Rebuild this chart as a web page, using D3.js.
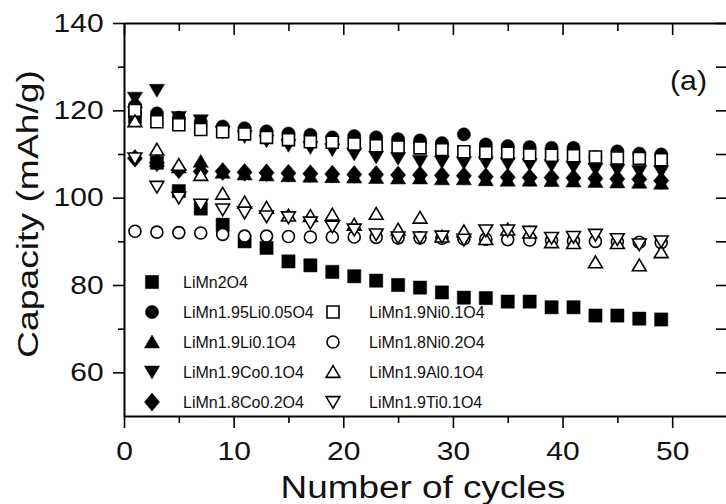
<!DOCTYPE html>
<html>
<head>
<meta charset="utf-8">
<script src="https://cdn.jsdelivr.net/npm/d3@7"></script>
<style>
  body { margin: 0; background: #fff; }
  svg { display: block; }
  text { font-family: "Liberation Sans", Arial, sans-serif; fill: #111; }
</style>
</head>
<body>
<svg width="726" height="504"></svg>
<script>
// cycle numbers (x)
const cycles = [1, 3, 5, 7, 9, 11, 13, 15, 17, 19, 21, 23, 25, 27, 29, 31, 33, 35, 37, 39, 41, 43, 45, 47, 49];

// capacity (mAh/g)
const limn2o4 = [118.5, 108, 101.5, 97.5, 93.8, 90, 88.5, 85.4, 84.5, 83, 82, 81, 80, 79.4, 78.3, 77.1, 77, 76.2, 76.2, 74.9, 74.9, 73, 73, 72.3, 72.1];
const li005 = [121, 119.3, 118.3, 117.3, 116.3, 115.9, 115.2, 114.7, 114.4, 113.8, 114.1, 113.8, 113.4, 113.1, 112.5, 114.5, 112.2, 111.8, 111.6, 111.4, 111.4, 109.3, 110.6, 110.1, 109.9];
const li01 = [122, 108.5, 107, 108.3, 105.8, 105.4, 105.2, 105, 104.9, 104.8, 104.7, 104.6, 104.5, 104.5, 104.3, 104.3, 104.1, 104, 104, 103.9, 103.8, 103.7, 103.6, 103.5, 103.3];
const co01 = [122.8, 124.6, 118.4, 117.6, 115, 114, 113, 112, 111.5, 111, 110, 109.3, 109, 108.3, 108.2, 108, 108, 107.8, 107.6, 107.4, 107, 106.5, 106.3, 106, 106];
const co02 = [109, 108, 106.4, 106, 106, 105.8, 105.7, 105.6, 105.5, 105.4, 105.3, 105.3, 105.2, 105.2, 105.1, 105, 104.8, 104.7, 104.6, 104.6, 104.5, 104.4, 104.3, 104.2, 103.9];
const ni01 = [120, 117.4, 116.7, 115.6, 115.1, 114.6, 113.8, 113.3, 112.8, 112.7, 112.3, 111.9, 111.6, 111.4, 111, 110.5, 110.3, 110.2, 109.8, 109.7, 109.6, 109.3, 109.1, 109, 108.7];
const ni02 = [92.3, 92.1, 92, 91.9, 91.6, 91.2, 91.2, 91.1, 91, 91, 91, 90.9, 90.8, 90.8, 90.7, 90.6, 90.5, 90.4, 90.3, 90.2, 90.1, 90, 89.9, 89.8, 89.7];
const al01 = [117.5, 111, 107.5, 105.2, 100.9, 98.9, 97.7, 95.9, 95.8, 96.1, 93.8, 96.3, 92.7, 95.4, 91.1, 92.3, 90.5, 92.7, 92, 89.8, 89.6, 85.2, 89.6, 84.5, 87.5];
const ti01 = [109, 102.5, 100, 98.4, 97.3, 96.6, 95.7, 95.5, 94.3, 93.4, 92.7, 91.6, 90.9, 90.9, 91.1, 90.4, 92.5, 92.5, 92.2, 90.8, 91, 91.5, 90.5, 89.3, 90];

const names = ['LiMn2O4', 'LiMn1.95Li0.05O4', 'LiMn1.9Li0.1O4', 'LiMn1.9Co0.1O4', 'LiMn1.8Co0.2O4',
               'LiMn1.9Ni0.1O4', 'LiMn1.8Ni0.2O4', 'LiMn1.9Al0.1O4', 'LiMn1.9Ti0.1O4'];
const xTicks = [0, 10, 20, 30, 40, 50];
const yTicks = [60, 80, 100, 120, 140];

// marker shapes (size = half width)
const shapes = {
  square: { draw(c, s) { c.rect(-s, -s, 2 * s, 2 * s); } },
  circle: { draw(c, s) { c.moveTo(s, 0); c.arc(0, 0, s, 0, 2 * Math.PI); } },
  up: { draw(c, s) { c.moveTo(0, -s * 1.05); c.lineTo(s * 1.15, s * 0.9); c.lineTo(-s * 1.15, s * 0.9); c.closePath(); } },
  down: { draw(c, s) { c.moveTo(0, s * 1.05); c.lineTo(s * 1.15, -s * 0.9); c.lineTo(-s * 1.15, -s * 0.9); c.closePath(); } },
  diamond: { draw(c, s) { c.moveTo(0, -s * 1.35); c.lineTo(s * 1.15, 0); c.lineTo(0, s * 1.35); c.lineTo(-s * 1.15, 0); c.closePath(); } }
};

const series = [
  { name: names[0], values: limn2o4, shape: 'square', filled: true },
  { name: names[1], values: li005, shape: 'circle', filled: true },
  { name: names[2], values: li01, shape: 'up', filled: true },
  { name: names[3], values: co01, shape: 'down', filled: true },
  { name: names[4], values: co02, shape: 'diamond', filled: true },
  { name: names[5], values: ni01, shape: 'square', filled: false },
  { name: names[6], values: ni02, shape: 'circle', filled: false },
  { name: names[7], values: al01, shape: 'up', filled: false },
  { name: names[8], values: ti01, shape: 'down', filled: false }
];

const svg = d3.select('svg');
const mLeft = 124, mRight = 727, mTop = 23, mBottom = 416;

const x = d3.scaleLinear().domain([0, 55]).range([mLeft, mRight]);
const y = d3.scaleLinear().domain([50, 140]).range([mBottom, mTop]);

const symbolPath = (shape, filled) =>
  d3.symbol().type(shapes[shape]).size(filled ? 6.6 : 6)();

// points
const dataContainer = svg.append('g').attr('class', 'dataContainer');
series.forEach((s) => {
  dataContainer.append('g')
    .selectAll('path')
    .data(cycles.map((c, i) => ({ c, v: s.values[i] })))
    .enter()
    .append('path')
    .attr('transform', (d) => `translate(${x(d.c)},${y(d.v)})`)
    .attr('d', symbolPath(s.shape, s.filled))
    .attr('fill', s.filled ? '#000' : '#fff')
    .attr('stroke', '#000')
    .attr('stroke-width', s.filled ? 0.5 : 1.6);
});

// axes
const styleAxis = (g) => {
  g.select('.domain').attr('stroke', '#000').attr('stroke-width', 2);
  g.selectAll('.tick line').attr('stroke', '#000').attr('stroke-width', 1.6);
};

const xMinor = [5, 15, 25, 35, 45];
const yMinor = [70, 90, 110, 130];

// bottom
const xAxisContainer = svg.append('g').attr('transform', `translate(0,${mBottom})`);
xAxisContainer.call(d3.axisBottom(x).tickValues(xTicks).tickSizeInner(12).tickSizeOuter(0).tickPadding(14))
  .call(styleAxis);
xAxisContainer.selectAll('.tick text')
  .attr('font-size', 25).attr('font-family', '"Liberation Sans", Arial, sans-serif').attr('fill', '#111')
  .attr('transform', 'scale(1.2,1)');
svg.append('g').attr('transform', `translate(0,${mBottom})`)
  .call(d3.axisBottom(x).tickValues(xMinor).tickSizeInner(7).tickSizeOuter(0).tickFormat(''))
  .call(styleAxis).select('.domain').remove();

// top
svg.append('g').attr('transform', `translate(0,${mTop})`)
  .call(d3.axisBottom(x).tickValues(xTicks).tickSizeInner(12).tickSizeOuter(0).tickFormat(''))
  .call(styleAxis);
svg.append('g').attr('transform', `translate(0,${mTop})`)
  .call(d3.axisBottom(x).tickValues(xMinor).tickSizeInner(8).tickSizeOuter(0).tickFormat(''))
  .call(styleAxis).select('.domain').remove();

// left
const yAxisContainer = svg.append('g').attr('transform', `translate(${mLeft},0)`);
yAxisContainer.call(d3.axisLeft(y).tickValues(yTicks).tickSizeInner(11).tickSizeOuter(0).tickPadding(10))
  .call(styleAxis);
yAxisContainer.selectAll('.tick text')
  .attr('font-size', 25).attr('font-family', '"Liberation Sans", Arial, sans-serif').attr('fill', '#111')
  .attr('transform', 'scale(1.2,1)').attr('x', -17);
svg.append('g').attr('transform', `translate(${mLeft},0)`)
  .call(d3.axisLeft(y).tickValues(yMinor).tickSizeInner(6).tickSizeOuter(0).tickFormat(''))
  .call(styleAxis).select('.domain').remove();

// right
svg.append('g').attr('transform', `translate(${mRight},0)`)
  .call(d3.axisRight(y).tickValues(yTicks.concat(yMinor)).tickSizeInner(-11).tickSizeOuter(0).tickFormat(''))
  .call(styleAxis);

// axis titles
svg.append('text')
  .attr('x', 423).attr('y', 498)
  .attr('text-anchor', 'middle')
  .attr('font-size', 31)
  .attr('textLength', 285).attr('lengthAdjust', 'spacingAndGlyphs')
  .text('Number of cycles');

svg.append('text')
  .attr('transform', 'translate(38,214) rotate(-90)')
  .attr('text-anchor', 'middle')
  .attr('font-size', 30)
  .attr('textLength', 288).attr('lengthAdjust', 'spacingAndGlyphs')
  .text('Capacity (mAh/g)');

svg.append('text')
  .attr('x', 670).attr('y', 90)
  .attr('font-family', '"Liberation Serif", "Times New Roman", serif')
  .attr('font-size', 28)
  .attr('textLength', 37).attr('lengthAdjust', 'spacingAndGlyphs')
  .text('(a)');

// legend
const legend = svg.append('g').attr('class', 'legend');
const rowY = [282, 312, 342, 372, 402];
series.forEach((s, i) => {
  const col = i < 5 ? 0 : 1;
  const row = i < 5 ? i : i - 4;
  const sx = col === 0 ? 152 : 333;
  const tx = col === 0 ? 183 : 369;
  legend.append('path')
    .attr('transform', `translate(${sx},${rowY[row]})`)
    .attr('d', symbolPath(s.shape, s.filled))
    .attr('fill', s.filled ? '#000' : '#fff')
    .attr('stroke', '#000')
    .attr('stroke-width', s.filled ? 0.5 : 1.6);
  legend.append('text')
    .attr('x', tx).attr('y', rowY[row] + 6)
    .attr('font-size', 16)
    .attr('fill', '#222')
    .text(s.name);
});
</script>
</body>
</html>
